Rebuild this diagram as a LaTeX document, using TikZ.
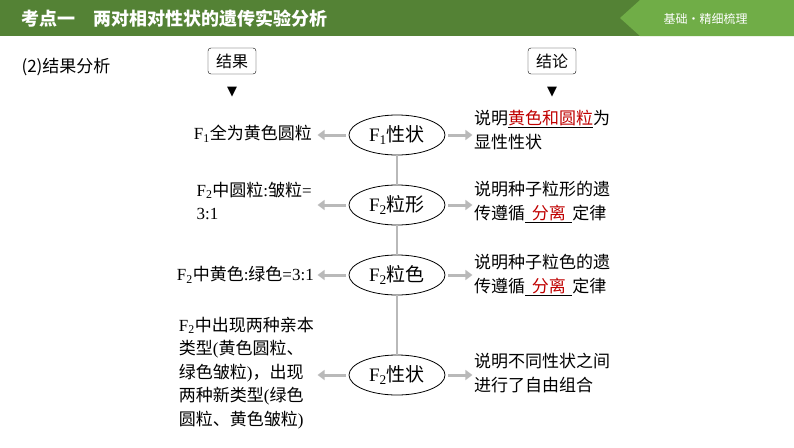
\documentclass[tikz,border=0pt]{standalone}
\usepackage{fontspec}
\setmainfont{Liberation Serif}
\newfontfamily\cjk{Noto Sans CJK SC}
\newfontfamily\dejavu{DejaVu Sans}
\usetikzlibrary{arrows.meta,shapes.geometric}
\definecolor{dg}{RGB}{84,130,53}
\definecolor{lg}{RGB}{112,173,71}
\definecolor{rd}{RGB}{192,0,0}
\begin{document}
\begin{tikzpicture}[x=1pt,y=-1pt,
  ell/.style={draw,thick,ellipse,minimum width=96pt,minimum height=40pt,inner sep=0pt,font=\fontsize{19}{22}\selectfont},
  lbox/.style={draw,rounded corners=3pt,minimum width=48pt,minimum height=26pt,font=\cjk\fontsize{16}{18}\selectfont},
  txt/.style={font=\fontsize{17}{23.5}\selectfont,align=left,inner sep=0pt},
  gar/.style={draw=gray!55,line width=3pt,-{Triangle[length=7pt,width=10pt]}},
  vline/.style={draw=gray!55,line width=2pt}]
\useasboundingbox (0,0) rectangle (794,447);
\fill[white] (0,0) rectangle (794,447);
\fill[dg] (0,0) rectangle (794,36);
\fill[lg] (640,0) -- (794,0) -- (794,36) -- (640,36) -- (620,18) -- cycle;
\node[anchor=west,text=white,font=\cjk\bfseries\fontsize{18}{20}\selectfont] (hd) at (18,19) {考点一\quad 两对相对性状的遗传实验分析};
\node[anchor=west,text=white,font=\cjk\fontsize{12}{14}\selectfont] (hr) at (660,19) {基础·精细梳理};
\node[anchor=west,font=\cjk\fontsize{17}{20}\selectfont] (t2) at (18,67) {(2)结果分析};
\node[lbox] (jg) at (232,61) {结果};
\node[lbox] (jl) at (552,61) {结论};
\node[font=\dejavu\fontsize{13}{13}\selectfont] (a1) at (232,92) {▼};
\node[font=\dejavu\fontsize{13}{13}\selectfont] (a2) at (552,92) {▼};
\node[ell] (e1) at (397,135) {F\textsubscript{1}{\cjk 性状}};
\node[ell] (e2) at (397,205) {F\textsubscript{2}{\cjk 粒形}};
\node[ell] (e3) at (397,275) {F\textsubscript{2}{\cjk 粒色}};
\node[ell] (e4) at (397,375) {F\textsubscript{2}{\cjk 性状}};
\draw[vline] (e1) -- (e2); \draw[vline] (e2) -- (e3); \draw[vline] (e3) -- (e4);
\node[txt,anchor=east] (l1) at (312,134) {F\textsubscript{1}{\cjk 全为黄色圆粒}};
\node[txt,anchor=east] (l2) at (312,201) {F\textsubscript{2}{\cjk 中圆粒}:{\cjk 皱粒}=\\3:1};
\node[txt,anchor=east] (l3) at (314,275) {F\textsubscript{2}{\cjk 中黄色}:{\cjk 绿色}=3:1};
\node[txt,anchor=east] (l4) at (314,373) {F\textsubscript{2}{\cjk 中出现两种亲本}\\{\cjk 类型}({\cjk 黄色圆粒、}\\{\cjk 绿色皱粒}){\cjk ，出现}\\{\cjk 两种新类型}({\cjk 绿色}\\{\cjk 圆粒、黄色皱粒})};
\foreach \e in {e1,e2,e3,e4}{\draw[gar] (\e.west) ++(-3,0) -- ++(-28,0);}
\foreach \e in {e1,e2,e3,e4}{\draw[gar] (\e.east) ++(3,0) -- ++(24,0);}
\node[txt,anchor=west,font=\cjk\fontsize{17}{24}\selectfont] (r1) at (474,130) {说明\underline{\textcolor{rd}{黄色和圆粒}}为\\显性性状};
\node[txt,anchor=west,font=\cjk\fontsize{17}{24}\selectfont] (r2) at (474,202) {说明种子粒形的遗\\传遵循\underline{\textcolor{rd}{\ \,分离\ \,}}定律};
\node[txt,anchor=west,font=\cjk\fontsize{17}{24}\selectfont] (r3) at (474,275) {说明种子粒色的遗\\传遵循\underline{\textcolor{rd}{\ \,分离\ \,}}定律};
\node[txt,anchor=west,font=\cjk\fontsize{17}{24}\selectfont] (r4) at (474,373) {说明不同性状之间\\进行了自由组合};
\end{tikzpicture}
\end{document}
